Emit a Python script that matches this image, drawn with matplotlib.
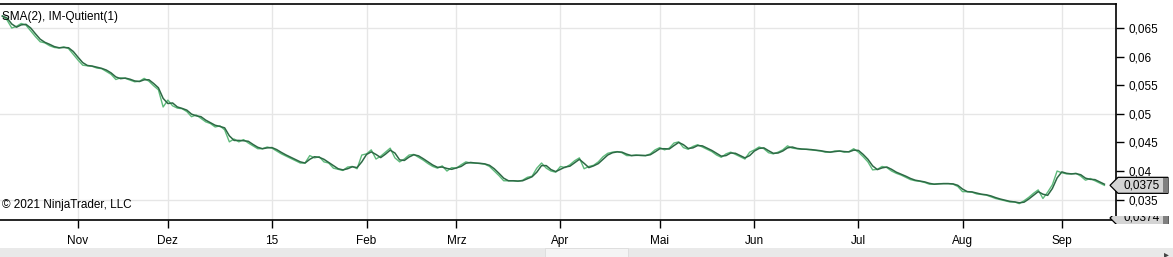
import numpy as np
import pandas as pd
import matplotlib
matplotlib.use("Agg")
import matplotlib.pyplot as plt
from matplotlib.patches import Rectangle, Polygon

plt.rcParams['font.family'] = ['Liberation Sans', 'DejaVu Sans']

# trading days (US calendar), Oct 2014 - Sep 2015
holidays = ['2014-11-27', '2014-12-25', '2015-01-01', '2015-01-19', '2015-02-16',
            '2015-04-03', '2015-05-25', '2015-07-03', '2015-09-07']
dates = pd.bdate_range('2014-10-10', '2015-09-15', freq='C', holidays=holidays)

# IM-Quotient, daily values
quotient = [
    0.0671, 0.0664, 0.0650, 0.0653, 0.0658, 0.0655, 0.0645, 0.0635, 0.0626, 0.0624,
    0.0619, 0.0616, 0.0615, 0.0617, 0.0614, 0.0604, 0.0594, 0.0585, 0.0584, 0.0583,
    0.0580, 0.0579, 0.0574, 0.0569, 0.0560, 0.0563, 0.0562, 0.0559, 0.0556, 0.0557,
    0.0562, 0.0557, 0.0549, 0.0542, 0.0512, 0.0524, 0.0514, 0.0510, 0.0509, 0.0504,
    0.0495, 0.0498, 0.0492, 0.0486, 0.0483, 0.0477, 0.0479, 0.0472, 0.0451, 0.0456,
    0.0451, 0.0455, 0.0449, 0.0444, 0.0439, 0.0439, 0.0442, 0.0440, 0.0435, 0.0430,
    0.0426, 0.0422, 0.0418, 0.0414, 0.0414, 0.0427, 0.0423, 0.0425, 0.0416, 0.0414,
    0.0405, 0.0403, 0.0401, 0.0407, 0.0408, 0.0404, 0.0428, 0.0430, 0.0437, 0.0421,
    0.0426, 0.0433, 0.0440, 0.0423, 0.0416, 0.0421, 0.0428, 0.0429, 0.0424, 0.0419,
    0.0413, 0.0408, 0.0405, 0.0409, 0.0400, 0.0406, 0.0405, 0.0411, 0.0416, 0.0414,
    0.0414, 0.0413, 0.0412, 0.0408, 0.0400, 0.0392, 0.0383, 0.0383, 0.0383, 0.0382,
    0.0384, 0.0389, 0.0391, 0.0405, 0.0414, 0.0405, 0.0400, 0.0398, 0.0408, 0.0406,
    0.0411, 0.0418, 0.0423, 0.0404, 0.0408, 0.0410, 0.0416, 0.0425, 0.0431, 0.0433,
    0.0434, 0.0432, 0.0427, 0.0427, 0.0428, 0.0427, 0.0427, 0.0430, 0.0437, 0.0441,
    0.0437, 0.0440, 0.0449, 0.0451, 0.0441, 0.0438, 0.0443, 0.0446, 0.0442, 0.0438,
    0.0434, 0.0428, 0.0424, 0.0430, 0.0433, 0.0429, 0.0425, 0.0421, 0.0433, 0.0437,
    0.0442, 0.0439, 0.0432, 0.0430, 0.0433, 0.0437, 0.0444, 0.0440, 0.0439, 0.0438,
    0.0438, 0.0437, 0.0436, 0.0435, 0.0433, 0.0433, 0.0435, 0.0435, 0.0433, 0.0434,
    0.0439, 0.0433, 0.0425, 0.0416, 0.0402, 0.0403, 0.0408, 0.0406, 0.0400, 0.0396,
    0.0393, 0.0389, 0.0385, 0.0383, 0.0382, 0.0380, 0.0377, 0.0377, 0.0378, 0.0378,
    0.0378, 0.0377, 0.0373, 0.0364, 0.0364, 0.0363, 0.0360, 0.0359, 0.0358, 0.0355,
    0.0352, 0.0350, 0.0348, 0.0346, 0.0346, 0.0343, 0.0348, 0.0354, 0.0361, 0.0367,
    0.0352, 0.0363, 0.0376, 0.0400, 0.0397, 0.0395, 0.0395, 0.0396, 0.0391, 0.0384,
    0.0387, 0.0383, 0.0379, 0.0375,
]
second_tag = 0.0374

month_names = {1: '15', 2: 'Feb', 3: 'Mrz', 4: 'Apr', 5: 'Mai', 6: 'Jun', 7: 'Jul',
               8: 'Aug', 9: 'Sep', 11: 'Nov', 12: 'Dez'}
y_ticks = [0.035, 0.04, 0.045, 0.05, 0.055, 0.06, 0.065]
grid_levels = [0.035, 0.05, 0.065]

s = pd.Series(quotient, index=dates)
sma = s.rolling(2, min_periods=1).mean()
x = np.arange(len(s))

# first bar of every month -> tick
tick_pos, tick_lab = [], []
for i in range(1, len(dates)):
    if dates[i].month != dates[i - 1].month:
        tick_pos.append(i)
        tick_lab.append(month_names[dates[i].month])

fig = plt.figure(figsize=(11.73, 2.57), dpi=100)
W, H = 1173, 257
ax = fig.add_axes([0, 37 / H, 1116 / W, 216 / H])

ax.plot(x, s.values, color='#5dba7a', lw=1.0, zorder=3)
ax.plot(x, sma.values, color='#2d6a45', lw=1.1, zorder=4)

ax.set_xlim(-0.49, 235.45)
ax.set_ylim(0.03144, 0.0692)

ax.set_xticks(tick_pos)
ax.set_xticklabels(tick_lab)
ax.yaxis.tick_right()
ax.set_yticks(y_ticks)
ax.set_yticklabels([('%g' % v).replace('.', ',') for v in y_ticks])
ax.tick_params(axis='both', length=6, width=1, color='black', labelsize=8.5, pad=3)
ax.tick_params(axis='x', pad=5)

for v in grid_levels:
    ax.axhline(v, color='#e6e6e6', lw=1, zorder=1)
for p in tick_pos:
    ax.axvline(p, color='#e6e6e6', lw=1, zorder=1)

ax.spines['left'].set_visible(False)
for sp in ['top', 'right', 'bottom']:
    ax.spines[sp].set_linewidth(1.2)

ax.text(0.002, 0.94, 'SMA(2), IM-Qutient(1)', transform=ax.transAxes, fontsize=8.5,
        va='center', ha='left', zorder=5)
ax.text(0.002, 0.07, '\u00a9 2021 NinjaTrader, LLC', transform=ax.transAxes, fontsize=8.5,
        va='center', ha='left', zorder=5)


def price_tag(yc, label, clip=None):
    # yc in display pixels (from the bottom)
    pts = [(1110, yc), (1118, yc + 8), (1168, yc + 8), (1168, yc - 8), (1118, yc - 8)]
    arts = [Polygon(pts, closed=True, transform=None, fc='#d4d4d4', ec='black', lw=0.9),
            Rectangle((1163, yc - 7.5), 5, 15, transform=None, fc='#808080', ec='none')]
    for a in arts:
        fig.add_artist(a)
    t = fig.text(1124 / W, yc / H, label, fontsize=8.5, va='center', ha='left')
    arts.append(t)
    if clip is not None:
        for a in arts:
            a.set_clip_path(clip)
            a.set_clip_on(True)


yc = ax.transData.transform((0, quotient[-1]))[1]
price_tag(yc, ('%.4f' % quotient[-1]).replace('.', ','))

clip = Rectangle((1100, H - 224), 73, 8, transform=None, visible=False)
fig.add_artist(clip)
price_tag(H - 218, ('%.4f' % second_tag).replace('.', ','), clip=clip)

# scrollbar at the bottom
fig.add_artist(Rectangle((0, 0), 1, 9 / H, transform=fig.transFigure, fc='#e9e9e9', ec='none'))
fig.add_artist(Rectangle((545 / W, 0), 83 / W, 9 / H, transform=fig.transFigure,
                         fc='#f4f4f4', ec='#dcdcdc', lw=0.6))
fig.text(1166 / W, 3 / H, '\u25b8', fontsize=7, color='#444444', ha='center', va='center',
         family=['DejaVu Sans'])

fig.savefig('out.png', dpi=100)
